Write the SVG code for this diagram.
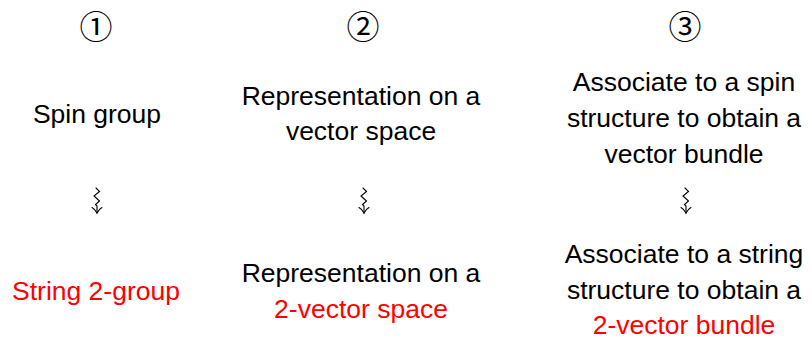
<svg xmlns="http://www.w3.org/2000/svg" width="812" height="340" viewBox="0 0 812 340">
  <style>
    text { font-family: "Liberation Sans", "DejaVu Sans", sans-serif; font-size: 26.5px; text-anchor: middle; fill: #000; }
    .red { fill: #ff0000; }
    .num { font-family: "Noto Sans CJK SC", "DejaVu Sans", sans-serif; font-size: 33px; }
    .sq { fill: none; stroke: #000; stroke-width: 1.1; stroke-linejoin: miter; stroke-linecap: round; }
  </style>
  <defs>
    <!-- vertical squiggly arrow, drawn about x = 0 -->
    <g id="squig">
      <path class="sq" d="M-1,188 L2.5,191.5 L-3,196 L2.5,201 L-1.5,204.5 L0,206 L0,213"/>
      <path class="sq" d="M-5,207.5 Q-1.5,209.5 0,213 Q1.5,209.5 5,207.5"/>
    </g>
  </defs>

  <!-- column headings -->
  <g id="headings">
    <text class="num" x="96" y="38.5">①</text>
    <text class="num" x="363" y="38.5">②</text>
    <text class="num" x="685" y="38.5">③</text>
  </g>

  <!-- top row -->
  <g id="spin-group">
    <text x="97" y="123">Spin group</text>
  </g>
  <g id="rep-vector-space">
    <text x="361" y="105">Representation on a</text>
    <text x="361" y="140">vector space</text>
  </g>
  <g id="spin-bundle">
    <text x="684" y="91">Associate to a spin</text>
    <text x="684" y="127">structure to obtain a</text>
    <text x="684" y="163">vector bundle</text>
  </g>

  <!-- connectors -->
  <g id="connectors">
    <use href="#squig" x="97" y="0"/>
    <use href="#squig" x="364" y="0"/>
    <use href="#squig" x="686" y="0"/>
  </g>

  <!-- bottom row -->
  <g id="string-2-group">
    <text class="red" x="96" y="300">String 2-group</text>
  </g>
  <g id="rep-2-vector-space">
    <text x="361" y="282">Representation on a</text>
    <text class="red" x="361" y="318">2-vector space</text>
  </g>
  <g id="string-bundle">
    <text x="684" y="263">Associate to a string</text>
    <text x="684" y="299">structure to obtain a</text>
    <text class="red" x="684" y="334">2-vector bundle</text>
  </g>
</svg>
